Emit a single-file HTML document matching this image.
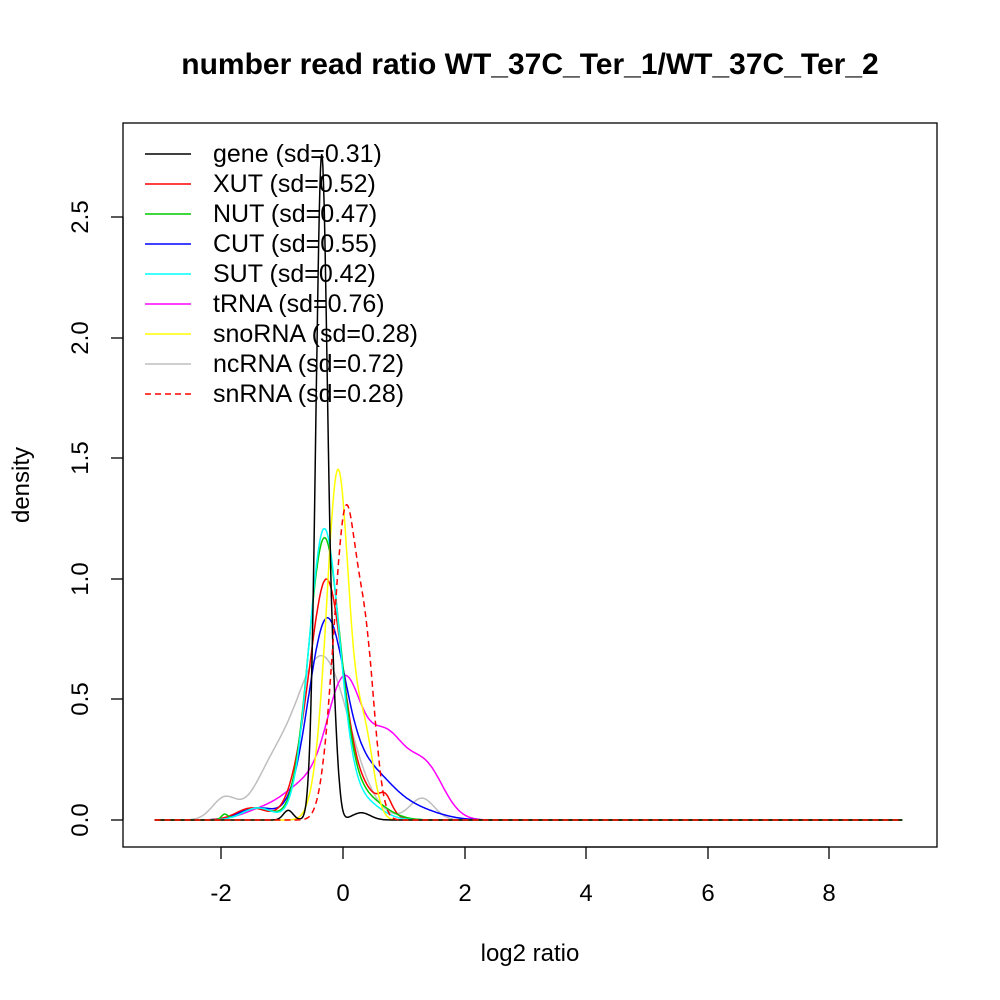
<!DOCTYPE html>
<html><head><style>
body{margin:0;background:#fff}
svg{display:block}
text{font-family:"Liberation Sans",sans-serif}
</style></head><body>
<svg id="s" width="1000" height="1000" viewBox="0 0 1000 1000" xmlns="http://www.w3.org/2000/svg">
<rect width="1000" height="1000" fill="#fff"/>
<text x="530" y="74" font-size="30" font-weight="bold" text-anchor="middle">number read ratio WT_37C_Ter_1/WT_37C_Ter_2</text>
<rect x="123" y="123" width="814" height="724" fill="none" stroke="#000" stroke-width="1.3"/>
<g stroke="#000" stroke-width="1.3">
<line x1="221" y1="847" x2="829" y2="847"/>
<line x1="221" y1="847" x2="221" y2="859"/><line x1="343" y1="847" x2="343" y2="859"/><line x1="465" y1="847" x2="465" y2="859"/><line x1="586" y1="847" x2="586" y2="859"/><line x1="708" y1="847" x2="708" y2="859"/><line x1="829" y1="847" x2="829" y2="859"/>
<line x1="123" y1="820" x2="123" y2="217"/>
<line x1="111" y1="820" x2="123" y2="820"/><line x1="111" y1="699" x2="123" y2="699"/><line x1="111" y1="579" x2="123" y2="579"/><line x1="111" y1="458" x2="123" y2="458"/><line x1="111" y1="338" x2="123" y2="338"/><line x1="111" y1="217" x2="123" y2="217"/>
</g>
<g font-size="24" text-anchor="middle">
<text x="221" y="901">-2</text><text x="343" y="901">0</text><text x="465" y="901">2</text><text x="586" y="901">4</text><text x="708" y="901">6</text><text x="829" y="901">8</text>
<text transform="translate(88,820) rotate(-90)">0.0</text>
<text transform="translate(88,699) rotate(-90)">0.5</text>
<text transform="translate(88,579) rotate(-90)">1.0</text>
<text transform="translate(88,458) rotate(-90)">1.5</text>
<text transform="translate(88,338) rotate(-90)">2.0</text>
<text transform="translate(88,217) rotate(-90)">2.5</text>
<text x="530" y="961">log2 ratio</text>
<text transform="translate(29,485) rotate(-90)">density</text>
</g>
<g id="curves" fill="none" stroke-width="1.5"></g>
<g font-size="25">
<line x1="145" y1="154" x2="191" y2="154" stroke="#000" stroke-width="1.5"/><text x="213" y="162">gene (sd=0.31)</text>
<line x1="145" y1="184" x2="191" y2="184" stroke="#f00" stroke-width="1.5"/><text x="213" y="192">XUT (sd=0.52)</text>
<line x1="145" y1="214" x2="191" y2="214" stroke="#0c0" stroke-width="1.5"/><text x="213" y="222">NUT (sd=0.47)</text>
<line x1="145" y1="244" x2="191" y2="244" stroke="#00f" stroke-width="1.5"/><text x="213" y="252">CUT (sd=0.55)</text>
<line x1="145" y1="274" x2="191" y2="274" stroke="#0ff" stroke-width="1.5"/><text x="213" y="282">SUT (sd=0.42)</text>
<line x1="145" y1="304" x2="191" y2="304" stroke="#f0f" stroke-width="1.5"/><text x="213" y="312">tRNA (sd=0.76)</text>
<line x1="145" y1="334" x2="191" y2="334" stroke="#ff0" stroke-width="1.5"/><text x="213" y="342">snoRNA (sd=0.28)</text>
<line x1="145" y1="364" x2="191" y2="364" stroke="#bebebe" stroke-width="1.5"/><text x="213" y="372">ncRNA (sd=0.72)</text>
<line x1="145" y1="394" x2="191" y2="394" stroke="#f00" stroke-width="1.5" stroke-dasharray="6,4"/><text x="213" y="402">snRNA (sd=0.28)</text>
</g>
</svg>
<script>
var C=[
["#bebebe",[[-0.35,0.68,0.45],[-1.95,0.09,0.2],[-1.2,0.15,0.3],[1.3,0.09,0.2]],""],
["#f0f",[[0.03,0.53,0.28],[0.7,0.33,0.3],[1.35,0.22,0.3],[-0.6,0.15,0.4],[-1.4,0.03,0.3]],""],
["#00f",[[-0.28,0.79,0.3],[0.4,0.2,0.4],[-1.4,0.05,0.3],[1.2,0.04,0.4]],""],
["#f00",[[-0.25,0.9,0.25],[-0.6,0.2,0.25],[0.3,0.12,0.3],[-1.5,0.05,0.25],[0.7,0.06,0.1]],""],
["#0c0",[[-0.31,1.15,0.26],[-1.4,0.05,0.25],[0.3,0.1,0.35],[-1.95,0.02,0.05]],""],
["#0ff",[[-0.31,1.2,0.25],[-1.4,0.05,0.25],[0.3,0.08,0.3]],""],
["#ff0",[[-0.08,1.44,0.18],[0.35,0.35,0.15],[-0.4,0.1,0.15]],""],
["#000",[[-0.35,2.76,0.095],[-0.15,0.3,0.07],[-0.9,0.04,0.08],[0.3,0.03,0.15]],""],
["#f00",[[0.05,1.2,0.17],[0.38,0.65,0.15],[-0.2,0.2,0.15]],"6,4"]
];
var g=document.getElementById("curves"),ns="http://www.w3.org/2000/svg";
C.forEach(function(c){var d="";for(var x=-3.1;x<=9.2;x+=0.01){var y=0;c[1].forEach(function(k){y+=k[1]*Math.exp(-0.5*Math.pow((x-k[0])/k[2],2));});
d+=(d?"L":"M")+(343+60.8*x).toFixed(1)+","+(820-240.8*y).toFixed(1);}
var p=document.createElementNS(ns,"path");p.setAttribute("d",d);p.setAttribute("stroke",c[0]);if(c[2])p.setAttribute("stroke-dasharray",c[2]);g.appendChild(p);});
</script>
</body></html>
